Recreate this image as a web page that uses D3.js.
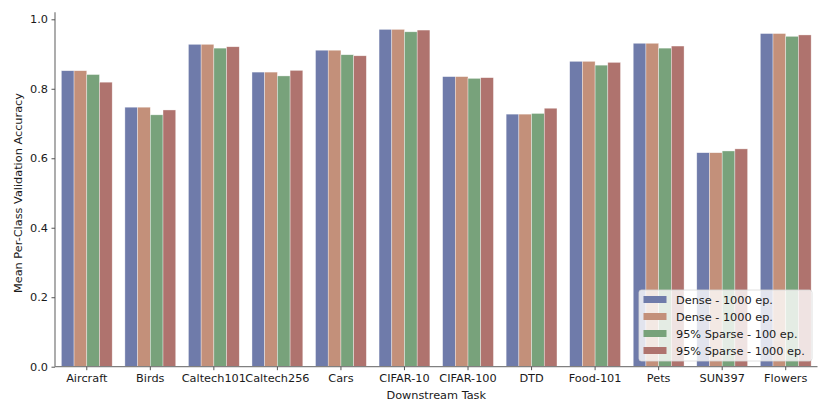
<!DOCTYPE html>
<html>
<head>
<meta charset="utf-8">
<script src="https://cdn.jsdelivr.net/npm/d3@7"></script>
<style>
  body { margin: 0; background: #fff; }
  text { font-family: "DejaVu Sans", sans-serif; fill: #1a1a1a; }
</style>
</head>
<body>
<div id="chart"></div>
<script>
var tasks = ['Aircraft','Birds','Caltech101','Caltech256','Cars','CIFAR-10','CIFAR-100','DTD','Food-101','Pets','SUN397','Flowers'];
var seriesNames = ['Dense - 1000 ep.','Dense - 1000 ep.','95% Sparse - 100 ep.','95% Sparse - 1000 ep.'];
var dense1000a = [0.852,0.747,0.928,0.848,0.911,0.971,0.835,0.727,0.879,0.931,0.616,0.959];
var dense1000b = [0.852,0.747,0.928,0.848,0.911,0.971,0.835,0.727,0.879,0.931,0.616,0.959];
var sparse100  = [0.841,0.725,0.917,0.837,0.898,0.964,0.830,0.729,0.868,0.917,0.621,0.951];
var sparse1000 = [0.819,0.739,0.921,0.853,0.895,0.969,0.832,0.744,0.876,0.923,0.627,0.955];
var yTicks = [0.0,0.2,0.4,0.6,0.8,1.0];
var colors = ['#6f7baa','#c3907a','#78a27b','#af736e'];

var width = 830, height = 415;
var plotLeft = 55, plotRight = 817.5, plotTop = 19.3, plotBottom = 366.7;
var fontSize = 11.3;

var allSeries = [dense1000a, dense1000b, sparse100, sparse1000];

var svg = d3.select('#chart').append('svg')
  .attr('width', width)
  .attr('height', height);

var x = d3.scaleBand().domain(tasks).range([plotLeft, plotRight]).paddingInner(0).paddingOuter(0);
var inner = d3.scaleBand().domain(d3.range(allSeries.length))
  .range([x.bandwidth()*0.1, x.bandwidth()*0.9]);
var y = d3.scaleLinear().domain([0, 1]).range([plotBottom, plotTop]);

// bars
allSeries.forEach(function(vals, s){
  svg.append('g').selectAll('rect')
    .data(vals)
    .enter()
    .append('rect')
    .attr('x', function(d,i){ return x(tasks[i]) + inner(s); })
    .attr('y', function(d){ return y(d); })
    .attr('width', inner.bandwidth())
    .attr('height', function(d){ return y(0) - y(d); })
    .attr('fill', colors[s])
    .attr('stroke', '#fff')
    .attr('stroke-opacity', 0.6)
    .attr('stroke-width', 0.6);
});

// axes
var yAxis = d3.axisLeft(y).tickValues(yTicks).tickFormat(d3.format('.1f')).tickSize(3.5).tickPadding(3.5);
var gy = svg.append('g').attr('transform', 'translate(' + plotLeft + ',0)').call(yAxis);
gy.select('.domain').attr('d', 'M0,' + plotBottom + 'V' + (plotTop - 7));

var xAxis = d3.axisBottom(x).tickSize(3.5).tickPadding(3.5);
var gx = svg.append('g').attr('transform', 'translate(0,' + plotBottom + ')').call(xAxis);
gx.select('.domain').attr('d', 'M' + plotLeft + ',0H' + plotRight);

[gx, gy].forEach(function(g){
  g.select('.domain').attr('stroke', '#808080').attr('stroke-width', 1.3);
  g.selectAll('.tick line').attr('stroke', '#555').attr('stroke-width', 1);
  g.selectAll('.tick text').attr('font-size', fontSize).attr('font-family', 'DejaVu Sans').attr('fill', '#1a1a1a');
});

// axis labels
svg.append('text')
  .attr('x', (plotLeft + plotRight) / 2)
  .attr('y', 399)
  .attr('text-anchor', 'middle')
  .attr('font-size', fontSize)
  .text('Downstream Task');

svg.append('text')
  .attr('transform', 'translate(22,' + ((plotTop + plotBottom) / 2) + ') rotate(-90)')
  .attr('text-anchor', 'middle')
  .attr('font-size', fontSize)
  .text('Mean Per-Class Validation Accuracy');

// legend
var lg = svg.append('g').attr('transform', 'translate(639,290)');
lg.append('rect')
  .attr('width', 173).attr('height', 71)
  .attr('rx', 2.5)
  .attr('fill', '#fff').attr('fill-opacity', 0.8)
  .attr('stroke', '#d8d8d8').attr('stroke-width', 0.8);
seriesNames.forEach(function(name, i){
  var row = lg.append('g').attr('transform', 'translate(0,' + (9.5 + i*17) + ')');
  row.append('rect')
    .attr('x', 4.5).attr('y', -3.5)
    .attr('width', 23).attr('height', 7)
    .attr('fill', colors[i]);
  row.append('text')
    .attr('x', 37).attr('y', 4)
    .attr('font-size', fontSize)
    .text(name);
});
</script>
</body>
</html>
